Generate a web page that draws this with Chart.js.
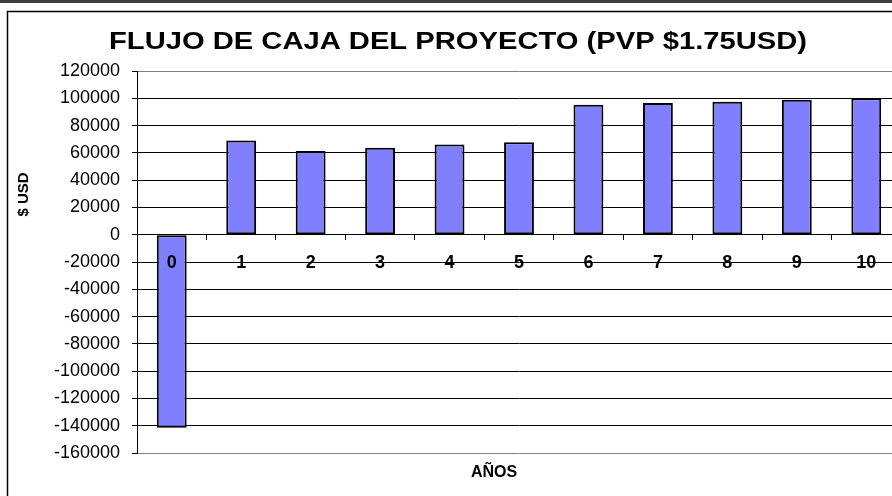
<!DOCTYPE html>
<html>
<head>
<meta charset="utf-8">
<script src="https://cdn.jsdelivr.net/npm/chart.js@4"></script>
<style>
  html, body { margin: 0; padding: 0; background: #fff; overflow: hidden; }
  #wrap { width: 892px; height: 496px; overflow: hidden; }
  canvas { display: block; }
</style>
</head>
<body>
<div id="wrap"><canvas id="flujo" width="930" height="496"></canvas></div>
<script>
// datos
const years = ["0", "1", "2", "3", "4", "5", "6", "7", "8", "9", "10"];
const cashFlow = [-141500, 69000, 61300, 63700, 66100, 67800, 95300, 96500, 97500, 99000, 100000];
const yMin = -160000;
const yMax = 120000;
const yStep = 20000;

const chartTitle = "FLUJO DE CAJA DEL PROYECTO (PVP $1.75USD)";
const yTitle = "$ USD";
const xTitle = "AÑOS";

const frameAndTexts = {
  id: "frameAndTexts",
  beforeDraw: (chart) => {
    const ctx = chart.ctx;
    ctx.save();
    ctx.fillStyle = "#fff";
    ctx.fillRect(0, 0, chart.width, chart.height);
    // barra oscura de arriba
    ctx.fillStyle = "#3c3c3c";
    ctx.fillRect(0, 0, chart.width, 3);
    // marco del grafico
    ctx.strokeStyle = "#000";
    ctx.lineWidth = 1.5;
    ctx.strokeRect(7.5, 11.5, chart.width + 20, chart.height + 20);
    ctx.restore();
  },
  afterDraw: (chart) => {
    const ctx = chart.ctx;
    ctx.save();
    ctx.fillStyle = "#000";
    // titulo (un poco estirado a lo ancho como en el original)
    ctx.font = "bold 23px 'Liberation Sans', Arial, sans-serif";
    ctx.textAlign = "center";
    ctx.textBaseline = "alphabetic";
    const w = ctx.measureText(chartTitle).width;
    ctx.translate(458, 48.5);
    ctx.scale(698 / w, 1);
    ctx.fillText(chartTitle, 0, 0);
    ctx.setTransform(1, 0, 0, 1, 0, 0);
    // titulo eje y
    ctx.font = "bold 15px 'Liberation Sans', Arial, sans-serif";
    ctx.textBaseline = "middle";
    ctx.translate(23.5, 194.5);
    ctx.rotate(-Math.PI / 2);
    ctx.fillText(yTitle, 0, 0);
    ctx.setTransform(1, 0, 0, 1, 0, 0);
    // titulo eje x
    ctx.font = "bold 16px 'Liberation Sans', Arial, sans-serif";
    ctx.fillText(xTitle, 494, 473);
    ctx.restore();
  },
};

const flujoChart = new Chart(document.getElementById("flujo"), {
  type: "bar",
  data: {
    labels: years,
    datasets: [
      {
        label: "Flujo de caja",
        data: cashFlow,
        backgroundColor: "#8080ff",
        borderColor: "#000",
        borderWidth: 2,
        borderSkipped: false,
        categoryPercentage: 1,
        barPercentage: 0.43,
      },
    ],
  },
  options: {
    responsive: false,
    animation: false,
    layout: {
      padding: { left: 0, top: 71, right: 29, bottom: 43 },
    },
    plugins: {
      legend: { display: false },
      tooltip: { enabled: false },
      title: { display: false },
    },
    scales: {
      x: {
        position: { y: 0 },
        offset: true,
        grid: {
          offset: true,
          drawOnChartArea: false,
          drawTicks: true,
          tickLength: 5,
          color: "#000",
        },
        border: { display: true, color: "#000", width: 1, z: 1 },
        ticks: {
          z: 1,
          color: "#000",
          padding: 13,
          maxRotation: 0,
          autoSkip: false,
          font: { family: "'Liberation Sans', Arial, sans-serif", size: 18, weight: "bold" },
        },
      },
      y: {
        min: yMin,
        max: yMax,
        afterFit: (scale) => {
          scale.width = 137;
        },
        grid: {
          color: (c) =>
            c.tick && (c.tick.value === yMax || c.tick.value === yMin) ? "#808080" : "#000",
          tickColor: "#000",
          tickLength: 5,
          lineWidth: 1,
        },
        border: { display: true, color: "#000", width: 1 },
        ticks: {
          stepSize: yStep,
          color: "#000",
          padding: 12,
          callback: (v) => String(v),
          font: { family: "'Liberation Sans', Arial, sans-serif", size: 18 },
        },
      },
    },
  },
  plugins: [frameAndTexts],
});
</script>
</body>
</html>
